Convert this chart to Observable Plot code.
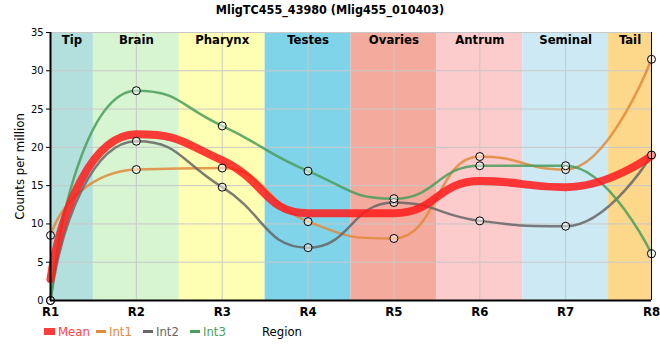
<!DOCTYPE html>
<html><head><meta charset="utf-8">
<script src="https://cdn.jsdelivr.net/npm/d3@7"></script>
<script src="https://cdn.jsdelivr.net/npm/@observablehq/plot@0.6"></script>
<style>
body{margin:0;background:#fff;font-family:"DejaVu Sans Condensed","DejaVu Sans",sans-serif;font-stretch:condensed;}
#wrap{position:relative;width:660px;height:360px;}
#title{position:absolute;top:2px;left:0;width:660px;text-align:center;font-weight:bold;font-size:12.5px;}
#legend{position:absolute;top:324px;left:44px;font-size:13px;}
.item{position:absolute;top:0;display:flex;align-items:center;white-space:nowrap;}
.sw{display:inline-block;margin-right:3px;}
</style></head><body>
<div id="wrap"><div id="title">MligTC455_43980 (Mlig455_010403)</div><div id="chart"></div><div id="legend"></div></div>
<script>
const regions = ["R1","R2","R3","R4","R5","R6","R7","R8"];
const meanVals = [2.8,21.7,18.3,11.4,11.4,15.6,14.8,18.9];
const int1 = [8.5,17.1,17.3,10.3,8.1,18.8,17.1,31.5];
const int2 = [0,20.8,14.8,6.9,12.8,10.4,9.7,19.0];
const int3 = [0,27.4,22.8,16.9,13.3,17.6,17.6,6.1];
const bandNames = ["Tip","Brain","Pharynx","Testes","Ovaries","Antrum","Seminal","Tail"];
const bandStart = [1,1.5,2.5,3.5,4.5,5.5,6.5,7.5];
const bandEnd = [1.5,2.5,3.5,4.5,5.5,6.5,7.5,8];
const bandColors = ["#b3e0dc","#d6f5d0","#ffffb3","#80d4ea","#f4aa9c","#fccbcb","#cdeaf4","#fdd88a"];
const seriesNames = ["Mean","Int1","Int2","Int3"];
const seriesColors = ["#ff1a1a","#e08a3c","#666666","#4a9e5c"];

const bands = bandNames.map((n,i)=>({name:n,x1:bandStart[i],x2:bandEnd[i],c:bandColors[i]}));
const toRows = (vals,s)=>vals.map((v,i)=>({x:i+1,y:v,s}));
const mean = toRows(meanVals,"Mean");
const s1 = toRows(int1,"Int1"), s2 = toRows(int2,"Int2"), s3 = toRows(int3,"Int3");
const pts = [...s1,...s2,...s3];
const FONT='"DejaVu Sans Condensed","DejaVu Sans",sans-serif';

// spline curve: control points halfway to neighbours, tangent through point, horizontal at extremes
function splineCurve(context){
  let p;
  return {
    areaStart(){}, areaEnd(){},
    lineStart(){p=[];},
    point(x,y){p.push([+x,+y]);},
    lineEnd(){
      const n=p.length; if(!n) return;
      const L=[],R=[], sm=1, den=sm+1;
      for(let i=1;i<n-1;i++){
        const [lx,ly]=p[i-1],[x,y]=p[i],[nx,ny]=p[i+1];
        let lcx=(sm*x+lx)/den, lcy=(sm*y+ly)/den, rcx=(sm*x+nx)/den, rcy=(sm*y+ny)/den, c=0;
        if(rcx!==lcx) c=((rcy-lcy)*(rcx-x))/(rcx-lcx)+y-rcy;
        lcy+=c; rcy+=c;
        if(lcy>ly&&lcy>y){lcy=Math.max(ly,y);rcy=2*y-lcy;}
        else if(lcy<ly&&lcy<y){lcy=Math.min(ly,y);rcy=2*y-lcy;}
        if(rcy>ny&&rcy>y){rcy=Math.max(ny,y);lcy=2*y-rcy;}
        else if(rcy<ny&&rcy<y){rcy=Math.min(ny,y);lcy=2*y-rcy;}
        L[i]=[lcx,lcy]; R[i]=[rcx,rcy];
      }
      if(n>1) R[0]=[p[0][0]+(p[1][0]-p[0][0])/8,(p[0][1]+p[1][1])/2];
      context.moveTo(p[0][0],p[0][1]);
      for(let i=1;i<n;i++){
        const c1=R[i-1]||p[i-1], c2=L[i]||p[i];
        context.bezierCurveTo(c1[0],c1[1],c2[0],c2[1],p[i][0],p[i][1]);
      }
    }
  };
}

const plot = Plot.plot({
  width:660,height:360,
  marginTop:32,marginBottom:60,marginLeft:50,marginRight:9,
  style:{fontFamily:FONT,fontStretch:"condensed",fontSize:"11px",color:"#000"},
  x:{domain:[1,8],ticks:[1,2,3,4,5,6,7,8],tickFormat:d=>regions[d-1],label:null,tickSize:0,tickPadding:6},
  y:{domain:[0,35],ticks:[0,5,10,15,20,25,30,35],label:"Counts per million",labelAnchor:"center",labelArrow:"none",labelOffset:36,tickSize:4,tickPadding:3},
  marks:[
    Plot.rect(bands,{x1:"x1",x2:"x2",y1:0,y2:35,fill:"c"}),
    Plot.gridY({stroke:"#c8c8c8",strokeOpacity:1}),
    Plot.gridX({stroke:"#c8c8c8",strokeOpacity:1}),
    Plot.text(bands,{x:d=>(d.x1+d.x2)/2,text:"name",frameAnchor:"top",dy:2,fontSize:13,fontWeight:"bold"}),
    Plot.line(s1,{x:"x",y:"y",stroke:seriesColors[1],strokeWidth:2.5,strokeOpacity:0.85,curve:splineCurve}),
    Plot.line(s2,{x:"x",y:"y",stroke:seriesColors[2],strokeWidth:2.5,strokeOpacity:0.85,curve:splineCurve}),
    Plot.line(s3,{x:"x",y:"y",stroke:seriesColors[3],strokeWidth:2.5,strokeOpacity:0.85,curve:splineCurve}),
    Plot.line(mean,{x:"x",y:"y",stroke:seriesColors[0],strokeWidth:8,strokeOpacity:0.85,curve:splineCurve}),
    Plot.dot(pts,{x:"x",y:"y",r:4,stroke:"#000",strokeWidth:1,fill:"#fff",fillOpacity:0.5}),
    Plot.ruleX([1],{stroke:"#000",strokeWidth:2}),
    Plot.ruleX([8],{stroke:"#000",strokeWidth:1}),
    Plot.ruleY([0],{stroke:"#000",strokeWidth:2}),
  ]
});
plot.querySelectorAll('[aria-label="x-axis tick label"] text').forEach(t=>{t.style.fontWeight="bold";t.style.fontSize="13px";});
plot.querySelectorAll('[aria-label="y-axis label"] text').forEach(t=>{t.style.fontSize="13px";});
document.getElementById("chart").appendChild(plot);

const lg = document.getElementById("legend");
seriesNames.forEach((n,i)=>{
  const sp=document.createElement("div");sp.className="item";sp.style.left=(i===0?0:52+47*(i-1))+"px";
  const sw=document.createElement("span");sw.className="sw";
  sw.style.width=(i===0?"11px":"10px");sw.style.height=(i===0?"7px":"3px");sw.style.background=seriesColors[i];
  sw.style.opacity=i===0?"0.85":"1";
  const tx=document.createElement("span");tx.textContent=n;tx.style.color=i===0?"#ff4444":seriesColors[i];
  sp.appendChild(sw);sp.appendChild(tx);lg.appendChild(sp);
});
const rg=document.createElement("div");rg.className="item";rg.textContent="Region";rg.style.left="218px";lg.appendChild(rg);
</script></body></html>
